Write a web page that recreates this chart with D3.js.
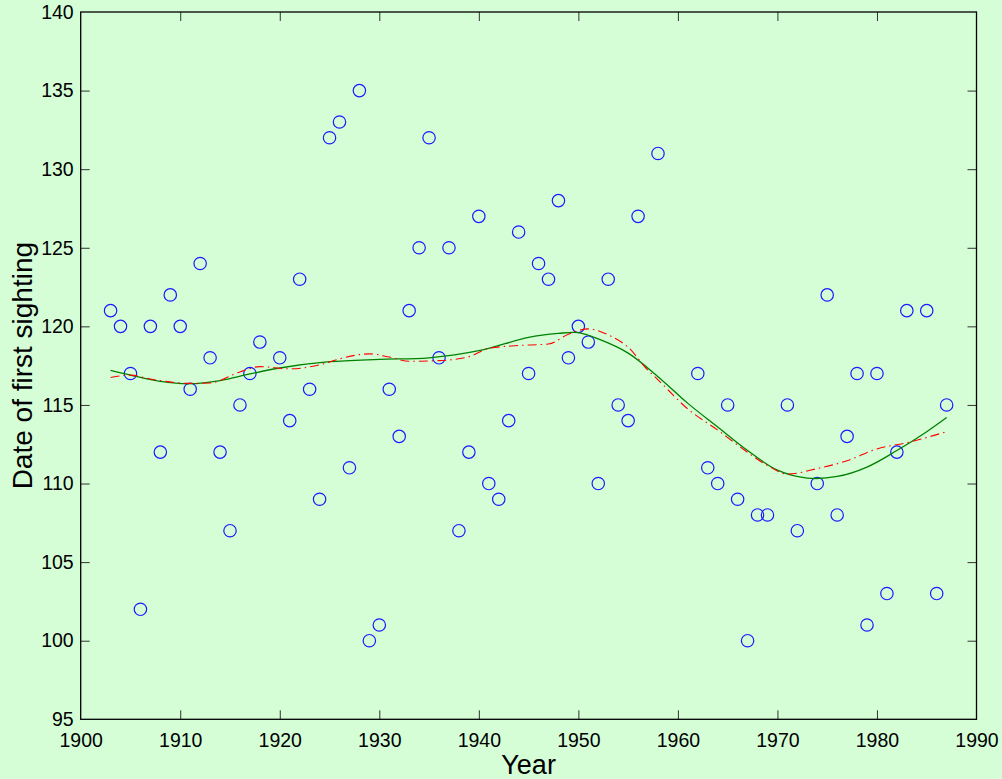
<!DOCTYPE html>
<html>
<head>
<meta charset="utf-8">
<script src="https://cdn.jsdelivr.net/npm/d3@7"></script>
<style>
  html, body { margin: 0; padding: 0; background: #d5fed7; }
  svg { display: block; }
  text { font-family: "Liberation Sans", Arial, Helvetica, sans-serif; fill: #000; }
</style>
</head>
<body>
<svg id="chart" width="1002" height="779"></svg>
<script>
// Observed first-sighting dates (day of year) by year
const years = [1903,1904,1905,1906,1907,1908,1909,1910,1911,1912,1913,1914,1915,1916,1917,1918,
  1920,1921,1922,1923,1924,1925,1926,1927,1928,1929,1930,1931,1932,1933,1934,1935,1936,1937,1938,
  1939,1940,1941,1942,1943,1944,1945,1946,1947,1948,1949,1950,1951,1952,1953,1954,1955,1956,1958,
  1962,1963,1964,1965,1966,1967,1968,1969,1971,1972,1974,1975,1976,1977,1978,1979,1980,1981,1982,
  1983,1985,1986,1987];
const sightings = [121,120,117,102,120,112,122,120,116,124,118,112,107,115,117,119,
  118,114,123,116,109,132,133,111,135,100,101,116,113,121,125,132,118,125,107,
  112,127,110,109,114,126,117,124,123,128,118,120,119,110,123,115,114,127,131,
  117,111,110,115,109,100,108,108,115,107,110,122,108,113,117,101,117,103,112,
  121,121,103,115];

// Smooth trend (solid green)
const smoothYears = [1903,1905,1908,1911,1914,1917,1920,1925,1930,1935,1940,1945,1948,1950,1952,
  1955,1958,1961,1964,1967,1970,1973,1976,1979,1982,1985,1987];
const smoothValues = [117.2,116.9,116.5,116.35,116.55,116.97,117.35,117.75,117.9,118.0,118.45,119.3,
  119.55,119.6,119.2,118.3,116.8,115.1,113.6,112.1,110.85,110.35,110.45,111.05,112.1,113.3,114.2];

// Local regression trend (red dash-dot)
const localYears = [1903,1905,1907,1911,1913,1916,1918,1921,1924,1926,1928,1929,1931,1933,1936,1939,
  1941,1944,1947,1949,1951,1953,1955,1957,1958,1961,1964,1966,1969,1971,1974,1977,1980,1983,1987];
const localValues = [116.75,116.9,116.65,116.37,116.4,117.1,117.44,117.3,117.55,117.93,118.2,118.25,
  118.05,117.78,117.82,118.07,118.6,118.78,118.88,119.5,119.84,119.46,118.67,117.2,116.6,114.74,
  113.4,112.45,111.15,110.6,110.95,111.45,112.2,112.6,113.3];

const xTicks = [1900,1910,1920,1930,1940,1950,1960,1970,1980,1990];
const yTicks = [95,100,105,110,115,120,125,130,135,140];

const svg = d3.select("#chart");
const plotLeft = 80.7, plotRight = 976.5, plotTop = 12, plotBottom = 719.3;

const x = d3.scaleLinear().domain([1900, 1990]).range([plotLeft, plotRight]);
const y = d3.scaleLinear().domain([95, 140]).range([plotBottom, plotTop]);

// plot area background
svg.append("rect").attr("x", plotLeft).attr("y", plotTop)
  .attr("width", plotRight - plotLeft).attr("height", plotBottom - plotTop)
  .attr("fill", "#d5fed7");

// axes with inward ticks on all four sides
const tickLen = 9;
const axisBottom = d3.axisBottom(x).tickValues(xTicks).tickFormat(d3.format("d"))
  .tickSizeInner(-tickLen).tickSizeOuter(0).tickPadding(14);
const axisTop = d3.axisTop(x).tickValues(xTicks).tickFormat("")
  .tickSizeInner(-tickLen).tickSizeOuter(0);
const axisLeft = d3.axisLeft(y).tickValues(yTicks).tickFormat(d3.format("d"))
  .tickSizeInner(-tickLen).tickSizeOuter(0).tickPadding(7);
const axisRight = d3.axisRight(y).tickValues(yTicks).tickFormat("")
  .tickSizeInner(-tickLen).tickSizeOuter(0);

function styleAxis(g) {
  g.select(".domain").remove();
  g.selectAll(".tick line").attr("stroke", "#333").attr("stroke-width", 1);
  g.selectAll(".tick text").style("font-size", "19.5px").attr("fill", "#000");
}

svg.append("g").attr("transform", `translate(0,${plotBottom})`).call(axisBottom).call(styleAxis);
svg.append("g").attr("transform", `translate(0,${plotTop})`).call(axisTop).call(styleAxis);
svg.append("g").attr("transform", `translate(${plotLeft},0)`).call(axisLeft).call(styleAxis);
svg.append("g").attr("transform", `translate(${plotRight},0)`).call(axisRight).call(styleAxis);

// end ticks would sit on the frame corners
svg.selectAll(".tick").filter(d => d === 95 || d === 140 || d === 1900 || d === 1990)
  .select("line").attr("stroke", "none");

// frame
svg.append("rect").attr("x", plotLeft).attr("y", plotTop)
  .attr("width", plotRight - plotLeft).attr("height", plotBottom - plotTop)
  .attr("fill", "none").attr("stroke", "#000").attr("stroke-width", 1.3);

// observations
svg.append("g").selectAll("circle")
  .data(years.map((yr, i) => [yr, sightings[i]]))
  .join("circle")
  .attr("cx", d => x(d[0])).attr("cy", d => y(d[1])).attr("r", 6.2)
  .attr("fill", "none").attr("stroke", "#1a1aff").attr("stroke-width", 1.2);

// trend lines
const smoothLine = d3.line().x(d => x(d[0])).y(d => y(d[1])).curve(d3.curveCatmullRom.alpha(0.5));
svg.append("path")
  .datum(smoothYears.map((yr, i) => [yr, smoothValues[i]]))
  .attr("d", smoothLine).attr("fill", "none").attr("stroke", "#008000").attr("stroke-width", 1.3);

const localLine = d3.line().x(d => x(d[0])).y(d => y(d[1])).curve(d3.curveMonotoneX);
svg.append("path")
  .datum(localYears.map((yr, i) => [yr, localValues[i]]))
  .attr("d", localLine).attr("fill", "none").attr("stroke", "#ff0000").attr("stroke-width", 1.1)
  .attr("stroke-dasharray", "9,4,1.5,4");

// axis titles
svg.append("text").attr("x", (plotLeft + plotRight) / 2).attr("y", 774)
  .attr("text-anchor", "middle").style("font-size", "27px").text("Year");
svg.append("text")
  .attr("transform", `translate(32,${(plotTop + plotBottom) / 2}) rotate(-90)`)
  .attr("text-anchor", "middle").style("font-size", "28px").text("Date of first sighting");
</script>
</body>
</html>
